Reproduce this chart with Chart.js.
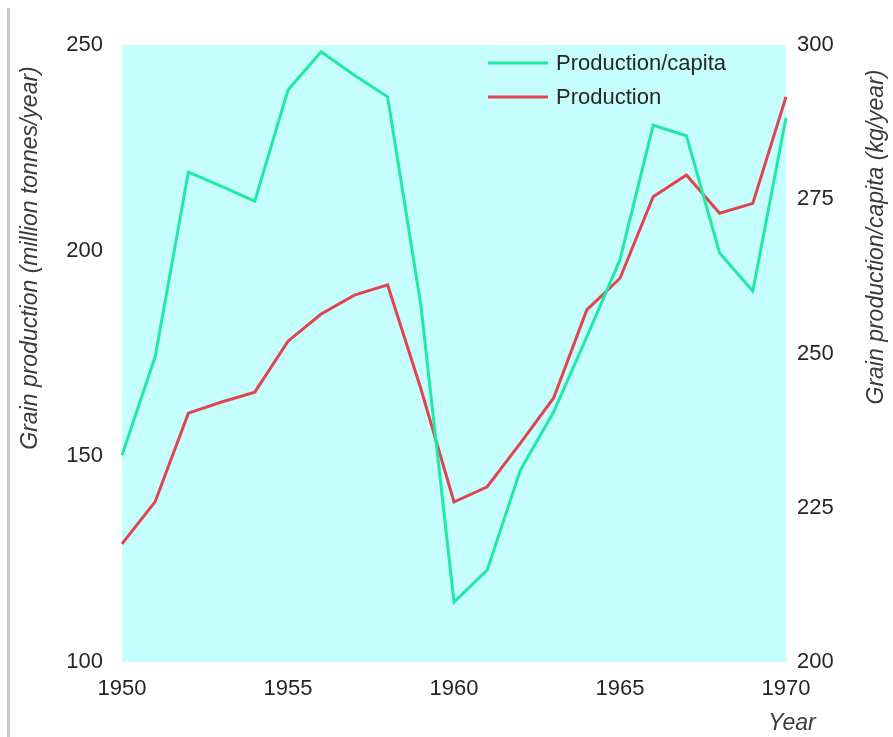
<!DOCTYPE html>
<html><head><meta charset="utf-8">
<script src="https://cdn.jsdelivr.net/npm/chart.js@4.4.1/dist/chart.umd.min.js"></script>
<style>html,body{margin:0;padding:0;background:#fff}#wrap{position:relative;width:893px;height:737px}</style>
</head><body><div id="wrap"><canvas id="c"></canvas></div>
<script>
// ---- data ----
const years = [1950,1951,1952,1953,1954,1955,1956,1957,1958,1959,1960,1961,1962,1963,1964,1965,1966,1967,1968,1969,1970];
// Grain production per capita (kg/year) - right axis
const productionPerCapita = [233.5,249.5,279.4,277.1,274.7,292.7,298.9,295.1,291.6,257.9,209.7,214.9,231.1,240.5,252.7,265.2,287.0,285.3,266.3,260.1,288.2];
// Grain production (million tonnes/year) - left axis
const production = [128.7,139.0,160.5,163.2,165.6,178.0,184.6,189.2,191.7,166.5,138.9,142.6,153.2,164.2,185.6,193.3,213.1,218.4,209.1,211.5,237.4];
const leftTicks = [100,150,200,250];
const rightTicks = [200,225,250,275,300];
const xTickYears = [1950,1955,1960,1965,1970];
const seriesNames = ['Production/capita','Production'];
const leftTitle = 'Grain production (million tonnes/year)';
const rightTitle = 'Grain production/capita (kg/year)';
const xTitle = 'Year';

const FONT = "'Liberation Sans', Arial, sans-serif";
const GREEN = '#22e8a6';
const RED = '#e0444e';
const TXT = '#262626';

const decor = {
  id: 'decor',
  beforeDraw(chart) {
    const {ctx, chartArea: a} = chart;
    ctx.save();
    ctx.fillStyle = '#ffffff';
    ctx.fillRect(0, 0, chart.width, chart.height);
    ctx.fillStyle = '#c9c9c9';
    ctx.fillRect(7, 8, 3, chart.height - 8);
    ctx.fillStyle = '#c6fefe';
    ctx.fillRect(a.left, a.top, a.right - a.left, a.bottom - a.top);
    ctx.restore();
  },
  afterDraw(chart) {
    const {ctx} = chart;
    ctx.save();
    ctx.fillStyle = '#3a3a3a';
    ctx.font = "italic 23px " + FONT;
    ctx.textAlign = 'center';
    ctx.textBaseline = 'middle';
    ctx.save(); ctx.translate(31, 258); ctx.rotate(-Math.PI/2); ctx.fillText(leftTitle, 0, 0); ctx.restore();
    ctx.save(); ctx.translate(877, 237); ctx.rotate(-Math.PI/2); ctx.fillText(rightTitle, 0, 0); ctx.restore();
    ctx.fillText(xTitle, 792, 724);
    ctx.font = "22px " + FONT;
    ctx.textAlign = 'left';
    const ds = chart.data.datasets;
    const ly = [63, 97];
    ds.forEach((d, i) => {
      ctx.strokeStyle = d.borderColor; ctx.lineWidth = 3;
      ctx.beginPath(); ctx.moveTo(488, ly[i]); ctx.lineTo(548, ly[i]); ctx.stroke();
      ctx.fillStyle = TXT;
      ctx.fillText(d.label, 556, ly[i] + 1);
    });
    ctx.restore();
  }
};

new Chart(document.getElementById('c'), {
  type: 'line',
  data: {
    labels: years,
    datasets: [
      {label: seriesNames[0], data: productionPerCapita, yAxisID: 'y1', borderColor: GREEN, borderWidth: 3, pointRadius: 0, tension: 0, fill: false},
      {label: seriesNames[1], data: production, yAxisID: 'y', borderColor: RED, borderWidth: 3, pointRadius: 0, tension: 0, fill: false}
    ]
  },
  options: {
    responsive: true,
    maintainAspectRatio: false,
    animation: false,
    layout: {padding: {top: 45, left: 0, right: 0, bottom: 0}},
    plugins: {legend: {display: false}, tooltip: {enabled: false}},
    scales: {
      x: {
        type: 'category', offset: false,
        grid: {display: false, drawTicks: false}, border: {display: false},
        ticks: {autoSkip: false, maxRotation: 0, padding: 14, color: TXT, font: {family: FONT, size: 22},
          callback: function(v, i) { const yr = years[i]; return xTickYears.includes(yr) ? String(yr) : ''; }},
        afterFit: s => { s.height = 75; }
      },
      y: {
        position: 'left', min: 100, max: 250,
        grid: {display: false, drawTicks: false}, border: {display: false},
        ticks: {padding: 19, color: TXT, font: {family: FONT, size: 22}},
        afterBuildTicks: s => { s.ticks = leftTicks.map(v => ({value: v})); },
        afterFit: s => { s.width = 122; }
      },
      y1: {
        position: 'right', min: 200, max: 300,
        grid: {display: false, drawTicks: false}, border: {display: false},
        ticks: {padding: 11, color: TXT, font: {family: FONT, size: 22}},
        afterBuildTicks: s => { s.ticks = rightTicks.map(v => ({value: v})); },
        afterFit: s => { s.width = 107; }
      }
    }
  },
  plugins: [decor]
});
</script></body></html>
